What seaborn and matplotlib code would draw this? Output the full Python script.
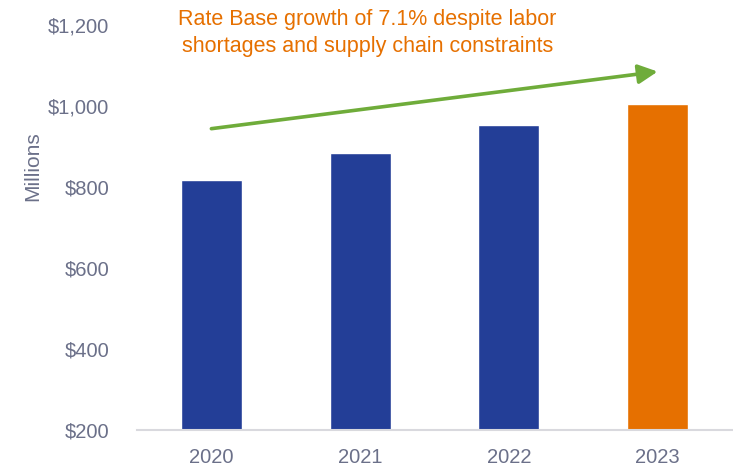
import matplotlib
matplotlib.use("Agg")
import matplotlib.pyplot as plt
import seaborn as sns
import pandas as pd

years = ["2020", "2021", "2022", "2023"]
rate_base = [817, 883, 953, 1005]
bar_colors = ["#233E97", "#233E97", "#233E97", "#E67000"]
y_ticks = [200, 400, 600, 800, 1000, 1200]
note = "Rate Base growth of 7.1% despite labor\nshortages and supply chain constraints"

df = pd.DataFrame({"year": years, "value": rate_base})

sns.set_style("white")
plt.rcParams["font.family"] = ["Liberation Sans", "DejaVu Sans"]

fig = plt.figure(figsize=(7.33, 4.71), dpi=100)
ax = fig.add_axes([137 / 733, 41 / 471, 595 / 733, 405 / 471])

sns.barplot(data=df, x="year", y="value", hue="year", palette=bar_colors,
            legend=False, width=0.41, ax=ax, saturation=1)

ax.set_ylim(200, 1200)
ax.set_xlim(-0.5, 3.5)
ax.set_yticks(y_ticks)
ax.set_yticklabels(["${:,}".format(v) for v in y_ticks])
ax.set_xlabel("")
ax.set_ylabel("Millions", fontsize=15, color="#6B7089")
ax.yaxis.set_label_coords(-0.16, 0.652)
ax.tick_params(axis="both", length=0, labelsize=14.5, labelcolor="#6B7089")
ax.tick_params(axis="x", pad=13)
ax.tick_params(axis="y", pad=20)

for s in ["top", "right", "left"]:
    ax.spines[s].set_visible(False)
ax.spines["bottom"].set_color("#D9D9DE")
ax.spines["bottom"].set_linewidth(1.5)

# green growth arrow
ax.annotate("", xy=(3.0, 1085), xytext=(0.0, 944),
            arrowprops=dict(arrowstyle="-|>,head_length=0.58,head_width=0.29",
                            mutation_scale=20, color="#6FAC3A", lw=2.6,
                            shrinkA=0, shrinkB=0),
            annotation_clip=False)

ax.text(1.05, 1180, note, ha="center", va="center", fontsize=15.5,
        color="#E67000", linespacing=1.35)

fig.savefig("out.png", dpi=100)
